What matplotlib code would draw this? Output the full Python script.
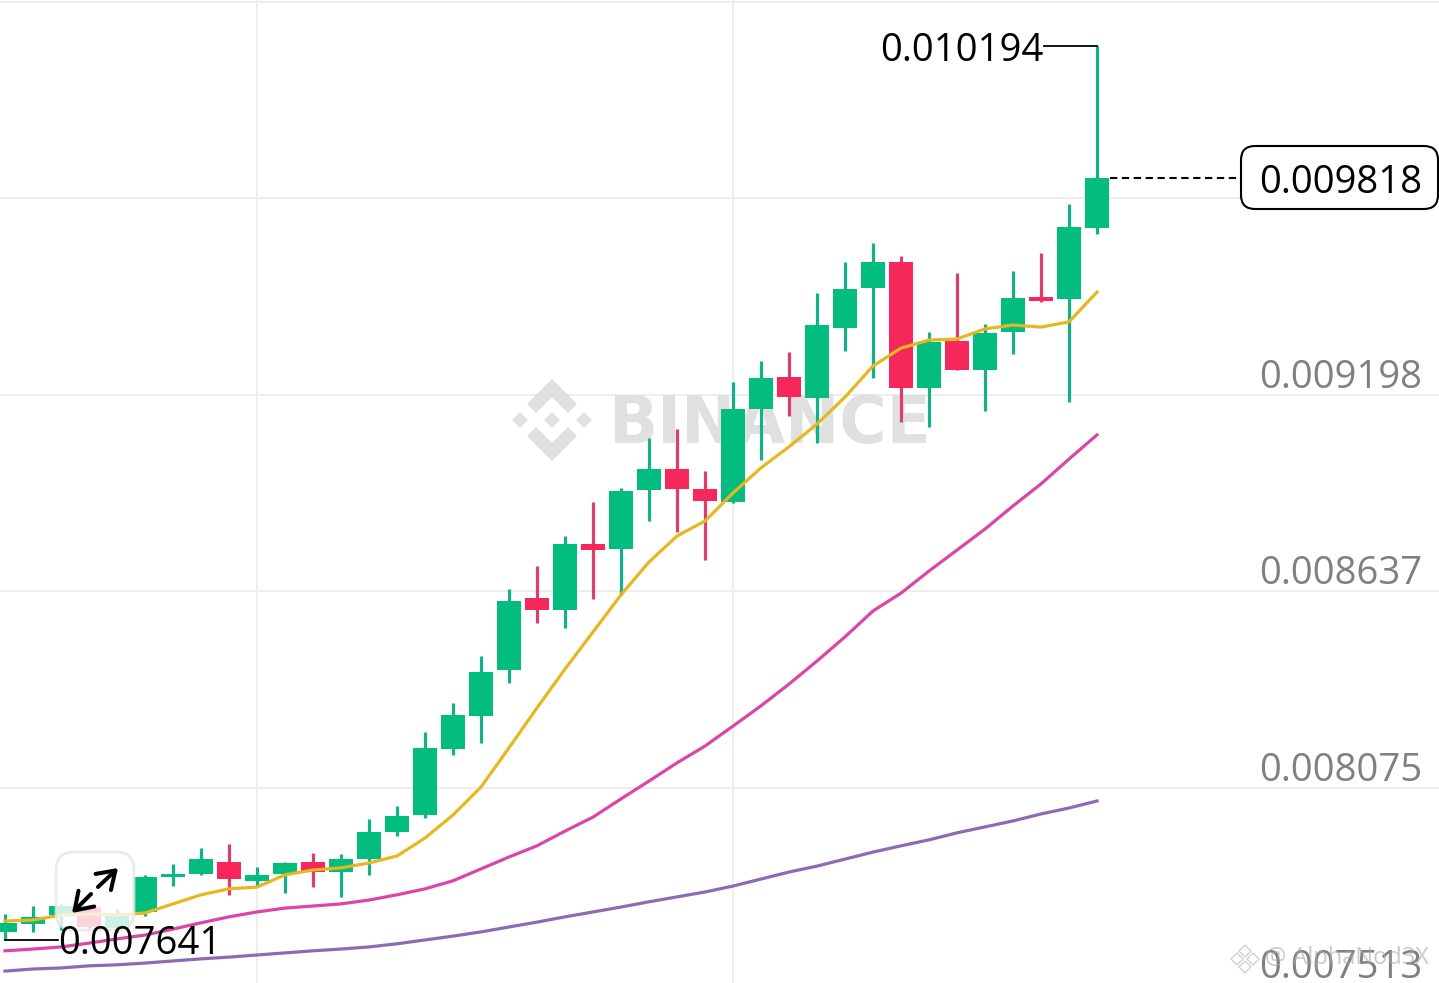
import numpy as np
import matplotlib
matplotlib.use('Agg')
from matplotlib import pyplot as plt
from matplotlib.patches import FancyBboxPatch, Polygon
from matplotlib.transforms import Affine2D, blended_transform_factory

# all prices are in millionths
opens = [7664, 7687, 7712, 7735, 7675, 7721, 7821, 7830, 7864, 7810,
         7830, 7864, 7835, 7872, 7950, 7998, 8187, 8281, 8412, 8618,
         8584, 8772, 8758, 8927, 8987, 8930, 8892, 9158, 9249, 9190,
         9389, 9504, 9578, 9218, 9352, 9269, 9378, 9478, 9472, 9675]
closes = [7690, 7707, 7738, 7678, 7718, 7821, 7830, 7872, 7815, 7827,
          7861, 7835, 7872, 7950, 7995, 8190, 8284, 8407, 8609, 8584,
          8772, 8755, 8924, 8987, 8930, 8895, 9158, 9247, 9192, 9398,
          9500, 9578, 9218, 9349, 9269, 9375, 9475, 9467, 9678, 9818]
highs = [7715, 7738, 7744, 7741, 7730, 7827, 7858, 7904, 7915, 7850,
         7864, 7890, 7887, 7987, 8024, 8235, 8318, 8452, 8643, 8710,
         8795, 8892, 8932, 9075, 9101, 8981, 9235, 9295, 9321, 9490,
         9578, 9632, 9595, 9378, 9547, 9401, 9552, 9604, 9744, 10194]
lows = [7641, 7664, 7670, 7675, 7664, 7710, 7795, 7827, 7770, 7792,
        7775, 7792, 7764, 7827, 7938, 7990, 8170, 8204, 8375, 8547,
        8532, 8615, 8627, 8838, 8807, 8727, 8889, 9012, 9138, 9061,
        9324, 9247, 9121, 9107, 9269, 9152, 9315, 9464, 9178, 9658]
ma7 = [7695, 7698, 7712, 7715, 7712, 7718, 7744, 7770, 7787, 7792,
       7827, 7841, 7847, 7861, 7881, 7932, 7998, 8078, 8190, 8304,
       8415, 8521, 8627, 8721, 8795, 8838, 8918, 8990, 9050, 9115,
       9192, 9281, 9332, 9355, 9358, 9387, 9398, 9392, 9407, 9492]
ma25 = [7610, 7615, 7621, 7632, 7644, 7655, 7672, 7690, 7707, 7721,
        7732, 7738, 7744, 7755, 7770, 7787, 7810, 7844, 7878, 7910,
        7952, 7992, 8044, 8095, 8147, 8195, 8252, 8310, 8372, 8438,
        8507, 8581, 8632, 8695, 8755, 8815, 8881, 8944, 9015, 9084]
ma99 = [7552, 7558, 7561, 7567, 7570, 7575, 7581, 7587, 7592, 7598,
        7604, 7610, 7615, 7621, 7630, 7641, 7652, 7664, 7678, 7692,
        7707, 7721, 7735, 7750, 7764, 7778, 7795, 7815, 7835, 7852,
        7872, 7892, 7910, 7927, 7947, 7964, 7981, 8001, 8018, 8038]
axis_prices = [9198, 8637, 8075, 7513]
grid_prices = [10322, 9760, 9198, 8637, 8075]
grid_candles = [9, 26]
high_price = 10194
low_price = 7641
last_price = 9818

GREEN = '#02bd7e'
RED = '#f6285b'
W, H = 1439, 983
LABEL_SIZE = 27.5

opens, closes = np.array(opens) / 1e6, np.array(closes) / 1e6
highs, lows = np.array(highs) / 1e6, np.array(lows) / 1e6
idx = np.arange(len(opens))
colors = [GREEN if c >= o else RED for o, c in zip(opens, closes)]
wick_colors = ['#14b088' if c >= o else '#dc3f69' for o, c in zip(opens, closes)]

plt.rcParams['font.family'] = ['Open Sans', 'DejaVu Sans']
fig = plt.figure(figsize=(W / 100, H / 100), dpi=100)
ax = fig.add_axes([0, 0, 1, 1])
ax.set_xlim(-5 / 28, (W - 5) / 28)
ax.set_ylim(0.007518, 0.0103266)
ax.axis('off')

# top-left pixel coordinates, for the things that are not data
pix = Affine2D().scale(1, -1).translate(0, H)
right = blended_transform_factory(pix, ax.transData)

for p in grid_prices:
    ax.axhline(p / 1e6, color='#eeeeee', lw=1.4, zorder=1)
for c in grid_candles:
    ax.axvline(c, color='#eeeeee', lw=1.4, zorder=1)

# binance watermark
wm = '#e0e0e0'
cx, cy = 552, 420
for dx, dy in [(0, 0), (-32, 0), (32, 0)]:
    ax.add_patch(Polygon([(cx + dx, cy + dy - 8), (cx + dx + 8, cy + dy),
                          (cx + dx, cy + dy + 8), (cx + dx - 8, cy + dy)],
                         color=wm, lw=0, transform=pix, zorder=1.5))
for s in (1, -1):
    ax.add_patch(Polygon([(cx, cy - 41 * s), (cx + 25, cy - 16 * s), (cx + 16, cy - 7 * s),
                          (cx, cy - 23 * s), (cx - 16, cy - 7 * s), (cx - 25, cy - 16 * s)],
                         color=wm, lw=0, transform=pix, zorder=1.5))
ax.text(608, 443, 'BINANCE', transform=pix, family='DejaVu Sans', fontweight='bold',
        fontsize=46.5, color=wm, ha='left', va='baseline', zorder=1.5)

ax.vlines(idx, lows, highs, colors=wick_colors, lw=2.3, zorder=3)
ax.bar(idx, closes - opens, bottom=opens, width=0.89, color=colors, lw=0, zorder=3)

ax.plot(idx, np.array(ma7) / 1e6, color='#e4b81e', lw=2.3, zorder=4)
ax.plot(idx, np.array(ma25) / 1e6, color='#d946a8', lw=2.3, zorder=4)
ax.plot(idx, np.array(ma99) / 1e6, color='#8a6bb4', lw=2.3, zorder=4)

# fullscreen button
ax.add_patch(FancyBboxPatch((70, 866), 50, 50, boxstyle='round,pad=14,rounding_size=18',
                            fc='white', ec='#e6e6e6', lw=2, alpha=0.8, transform=pix, zorder=5))
arrow = dict(arrowstyle='->,head_length=0.6,head_width=0.4', color='black', lw=2.9,
             shrinkA=0, shrinkB=0, mutation_scale=20)
ax.annotate('', xy=(118, 868), xytext=(98, 887), xycoords=pix, textcoords=pix, zorder=6,
            arrowprops=arrow)
ax.annotate('', xy=(72, 913), xytext=(91, 894), xycoords=pix, textcoords=pix, zorder=6,
            arrowprops=arrow)

# axis labels sit just above their price line
for p in axis_prices:
    ax.annotate('%.6f' % (p / 1e6), xy=(1422, p / 1e6), xycoords=right, xytext=(0, 15.6),
                textcoords='offset points', ha='right', va='center_baseline', color='#808080',
                fontsize=LABEL_SIZE, zorder=6)

# high / low markers
ax.plot([37.1, idx[-1]], [high_price / 1e6] * 2, color='black', lw=1.3, zorder=6)
ax.text(1043, high_price / 1e6, '%.6f' % (high_price / 1e6), transform=right, ha='right',
        va='center_baseline', color='black', fontsize=LABEL_SIZE, zorder=7)
ax.plot([0, 1.9], [low_price / 1e6] * 2, color='black', lw=1.3, zorder=6)
ax.text(58, low_price / 1e6, '%.6f' % (low_price / 1e6), transform=right, ha='left',
        va='center_baseline', color='black', fontsize=LABEL_SIZE, zorder=7)

# last price
ax.plot([39.45, 44.1], [last_price / 1e6] * 2, color='black', lw=1.5, ls=(0, (3.5, 2.2)), zorder=4)
ax.add_patch(FancyBboxPatch((1255, 160), 169, 35, boxstyle='round,pad=14,rounding_size=14',
                            fc='white', ec='black', lw=1.5, transform=pix, zorder=5))
ax.text(1422, last_price / 1e6, '%.6f' % (last_price / 1e6), transform=right, ha='right',
        va='center_baseline', color='black', fontsize=LABEL_SIZE, zorder=6)

# author watermark
ax.text(1265, 958, '@ AlphaNod3X', transform=pix, ha='left', va='center', color='#a8a8a8',
        alpha=0.6, fontsize=17, zorder=7)
for dx, dy in [(0, -8), (-8, 0), (8, 0), (0, 8)]:
    ax.add_patch(Polygon([(1245 + dx, 959 + dy - 6), (1245 + dx + 6, 959 + dy),
                          (1245 + dx, 959 + dy + 6), (1245 + dx - 6, 959 + dy)],
                         fc='none', ec='#d0d0d0', lw=1, transform=pix, zorder=7))

fig.savefig('out.png', dpi=100)
